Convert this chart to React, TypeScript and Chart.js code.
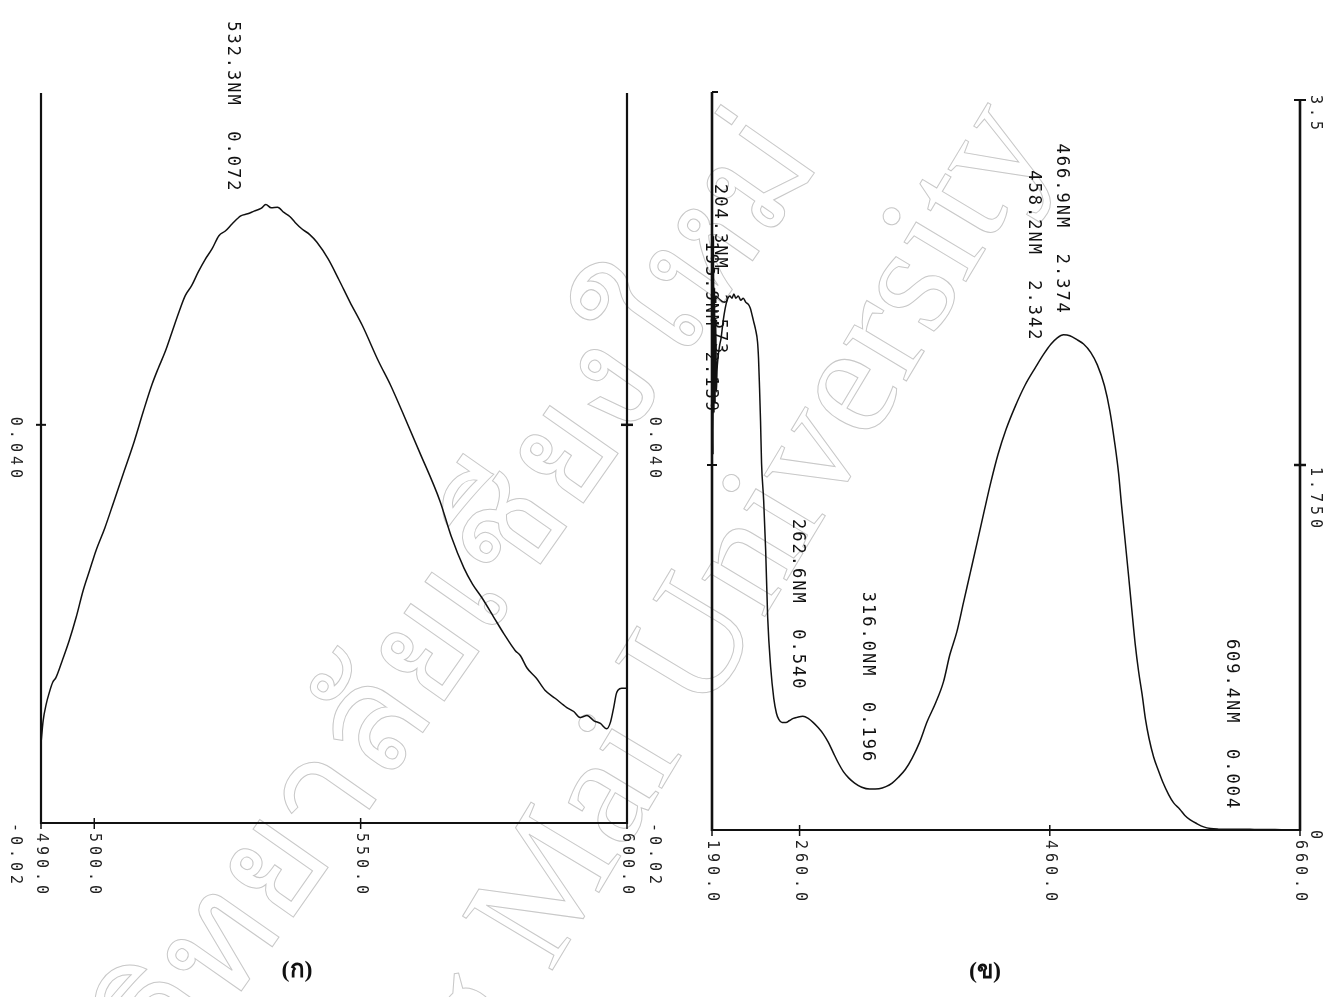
import React, { useEffect, useRef } from "react";
import { Chart, registerables } from "chart.js";

Chart.register(...registerables);

// ================= DATA : spectrum (ก) =================
const leftWavelengths = [
  490.0, 490.4, 491.0, 491.5, 492.2, 492.8, 494.0, 495.3, 496.6, 497.9, 499.1, 500.3,
  502.0, 503.7, 505.6, 507.5, 509.2, 510.8, 512.0, 513.3, 514.6, 515.9, 517.1, 518.3,
  519.5, 520.8, 522.1, 523.4, 524.6, 525.9, 527.5, 528.8, 530.0, 531.3, 532.2, 533.2,
  534.4, 535.6, 536.7, 537.7, 539.0, 540.4, 541.8, 543.9, 545.9, 548.0, 550.3, 553.4,
  555.6, 557.8, 561.0, 564.9, 567.0, 569.4, 571.0, 572.8, 575.0, 576.9, 579.0, 580.0,
  581.2, 583.0, 584.6, 586.5, 588.7, 590.0, 591.2, 592.5, 593.8, 595.0, 596.2, 596.9,
  597.5, 598.0, 598.3, 599.0, 600.0,
];
const leftAbsorbance = [
  -0.008, -0.0046, -0.002, -0.0005, 0.0012, 0.0019, 0.0045, 0.0075, 0.011, 0.015, 0.018, 0.021,
  0.0245, 0.0285, 0.033, 0.0375, 0.042, 0.046, 0.0485, 0.051, 0.054, 0.057, 0.0595, 0.061,
  0.063, 0.0649, 0.0665, 0.0685, 0.0692, 0.0703, 0.0715, 0.0718, 0.0722, 0.0726, 0.0732, 0.0727,
  0.0728, 0.072, 0.0714, 0.0705, 0.0695, 0.0687, 0.0675, 0.065, 0.0619, 0.0585, 0.055, 0.0495,
  0.046, 0.042, 0.036, 0.0285, 0.0232, 0.0184, 0.016, 0.0139, 0.011, 0.0085, 0.006, 0.0052,
  0.0034, 0.0018, 0.0, -0.0012, -0.0026, -0.0032, -0.0041, -0.0038, -0.0046, -0.005, -0.0058, -0.0048,
  -0.0026, -0.0005, 0.0, 0.0003, 0.0003,
];
const leftXTicks = [490, 500, 550, 600];
const leftXTickLabels = ["490.0", "500.0", "550.0", "600.0"];
const leftYTicks = [-0.02, 0.04];
const leftYTickLabels = ["-0.02", "0.040"];
const leftPeakNm = [532.3];
const leftPeakAbs = [0.072];
const leftPeakLabels = ["532.3NM  0.072"];
const leftCaption = "(ก)";

// ================= DATA : spectrum (ข) =================
const rightWavelengths = [
  190.0, 190.4, 190.8, 191.2, 191.6, 192.0, 192.5, 193.0, 193.5, 194.0, 194.9, 196.0,
  197.3, 198.9, 200.5, 202.1, 204.3, 206.0, 207.5, 209.0, 211.0, 213.0, 215.0, 217.0,
  219.1, 220.7, 222.0, 223.2, 224.8, 226.4, 227.2, 228.0, 228.8, 229.6, 231.3, 232.9,
  234.5, 236.9, 239.4, 241.5, 243.4, 246.0, 249.1, 252.0, 255.0, 258.0, 262.6, 266.9,
  271.0, 275.0, 279.0, 283.0, 287.0, 291.1, 295.0, 299.2, 304.0, 309.7, 316.0, 323.5,
  329.0, 334.0, 339.0, 344.5, 350.0, 355.9, 362.0, 368.8, 375.0, 380.1, 385.7, 391.0,
  396.7, 402.0, 407.6, 413.0, 418.6, 425.0, 432.3, 440.0, 448.8, 455.0, 461.0, 466.0,
  471.0, 476.0, 482.0, 487.0, 492.7, 498.0, 503.7, 508.0, 511.8, 515.0, 517.3, 520.0,
  522.8, 525.5, 528.3, 531.0, 533.8, 536.5, 539.3, 543.0, 546.5, 550.3, 555.0, 559.0,
  563.9, 568.0, 572.0, 577.7, 583.0, 588.6, 595.0, 602.0, 609.4, 620.0, 630.0, 640.0,
  650.0, 660.0,
];
const rightAbsorbance = [
  1.95, 2.7, 1.8, 2.85, 2.0, 2.6, 2.05, 2.45, 2.1, 2.2, 2.27, 2.32,
  2.36, 2.44, 2.5, 2.54, 2.56, 2.55, 2.57, 2.55, 2.56, 2.54, 2.55, 2.53,
  2.52, 2.5, 2.47, 2.44, 2.4, 2.34, 2.26, 2.12, 1.96, 1.76, 1.58, 1.34,
  1.02, 0.78, 0.63, 0.56, 0.53, 0.515, 0.515, 0.525, 0.535, 0.54, 0.545, 0.535,
  0.515, 0.49, 0.46, 0.42, 0.37, 0.32, 0.28, 0.25, 0.225, 0.205, 0.196, 0.198,
  0.208, 0.225, 0.253, 0.29, 0.345, 0.42, 0.52, 0.61, 0.71, 0.84, 0.95, 1.09,
  1.24, 1.38, 1.53, 1.67, 1.8, 1.92, 2.03, 2.13, 2.22, 2.28, 2.33, 2.36,
  2.374, 2.37, 2.35, 2.33, 2.29, 2.23, 2.13, 2.01, 1.86, 1.71, 1.56, 1.4,
  1.23, 1.06, 0.89, 0.76, 0.65, 0.53, 0.44, 0.35, 0.29, 0.23, 0.17, 0.13,
  0.1, 0.07, 0.05, 0.03, 0.015, 0.007, 0.004, 0.003, 0.004, 0.003, 0.002, 0.002,
  0.001, 0.001,
];
const rightXTicks = [190, 260, 460, 660];
const rightXTickLabels = ["190.0", "260.0", "460.0", "660.0"];
const rightYTicks = [0, 1.75, 3.5];
const rightYTickLabels = ["0", "1.750", "3.5"];
const rightPeakNm = [204.3, 195.9, 262.6, 316.0, 458.2, 466.9, 609.4];
const rightPeakAbs = [2.573, 2.139, 0.54, 0.196, 2.342, 2.374, 0.004];
const rightPeakLabels = [
  "204.3NM  2.573",
  "195.9NM  2.139",
  "262.6NM  0.540",
  "316.0NM  0.196",
  "458.2NM  2.342",
  "466.9NM  2.374",
  "609.4NM  0.004",
];
const rightCaption = "(ข)";

// watermark texts
const watermarkThai = "ลิขสิทธิ์มหาวิทยาลัยเชียงใหม่";
const watermarkEnglish = "Chiang Mai University";

// ================= STYLE / LAYOUT =================
const MONO = '"DejaVu Sans Mono", "Liberation Mono", monospace';

type PanelStyle = {
  canvasLeft: number;
  width: number;
  height: number;
  padding: { left: number; right: number; top: number; bottom: number };
  xMin: number;
  xMax: number;
  yMin: number;
  yMax: number;
  leftAxisExt: number;
  caps: boolean;
  axisWidth: number;
  labelDx: number[];
  labelGap: number[];
  yLabelSides: ("left" | "right")[];
  yLabelLeftX: number;
  yLabelRightX: number;
  yLabelDy: number[];
  lineWidth: number;
};

const leftStyle: PanelStyle = {
  canvasLeft: 0,
  width: 680,
  height: 997,
  padding: { left: 41, right: 53, top: 93, bottom: 174 },
  xMin: 490,
  xMax: 600,
  yMin: -0.02,
  yMax: 0.09,
  leftAxisExt: 0,
  caps: false,
  axisWidth: 2.2,
  labelDx: [-34],
  labelGap: [20],
  yLabelSides: ["left", "right"],
  yLabelLeftX: -26,
  yLabelRightX: 27,
  yLabelDy: [0, -8],
  lineWidth: 1.5,
};

const rightStyle: PanelStyle = {
  canvasLeft: 680,
  width: 663,
  height: 997,
  padding: { left: 32, right: 43, top: 100, bottom: 167 },
  xMin: 190,
  xMax: 660,
  yMin: 0,
  yMax: 3.5,
  leftAxisExt: 8,
  caps: true,
  axisWidth: 2.6,
  labelDx: [-10, -9, -5, -2, -14, 3, -5],
  labelGap: [-62, -29, 27, 26, 0, 20, 19],
  yLabelSides: ["right"],
  yLabelLeftX: -26,
  yLabelRightX: 15,
  yLabelDy: [0, 2, -5],
  lineWidth: 1.5,
};

function rotText(
  ctx: CanvasRenderingContext2D,
  text: string,
  cx: number,
  y: number,
  align: CanvasTextAlign,
  font: string,
  spacing: string,
  color: string
) {
  ctx.save();
  ctx.translate(cx, y);
  ctx.rotate(Math.PI / 2);
  ctx.font = font;
  try {
    (ctx as any).letterSpacing = spacing;
  } catch (e) {}
  ctx.fillStyle = color;
  ctx.textAlign = align;
  ctx.textBaseline = "middle";
  ctx.fillText(text, 0, 0);
  ctx.restore();
}

const framePlugin = {
  id: "frame",
  afterDraw(chart: any, _args: any, opts: any) {
    const ctx: CanvasRenderingContext2D = chart.ctx;
    const a = chart.chartArea;
    const xs = chart.scales.x;
    const ys = chart.scales.y;
    const st: PanelStyle = opts.style;
    const line = (x1: number, y1: number, x2: number, y2: number, w: number) => {
      ctx.beginPath();
      ctx.lineWidth = w;
      ctx.moveTo(x1, y1);
      ctx.lineTo(x2, y2);
      ctx.stroke();
    };
    ctx.save();
    ctx.strokeStyle = "#111";
    ctx.lineCap = "butt";
    line(a.left, a.top - st.leftAxisExt, a.left, a.bottom + 1, st.axisWidth);
    line(a.right, a.top, a.right, a.bottom + 1, st.axisWidth);
    line(a.left, a.bottom, a.right, a.bottom, 2);
    if (st.caps) {
      line(a.left, a.top - st.leftAxisExt, a.left + 6, a.top - st.leftAxisExt, 2);
      line(a.right - 6, a.top, a.right + 6, a.top, 2);
    }
    (opts.yTicks as number[]).forEach((v) => {
      const yy = ys.getPixelForValue(v);
      if (Math.abs(yy - a.bottom) < 2 || Math.abs(yy - a.top) < 2) return;
      line(a.left - 5, yy, a.left + 5, yy, 2);
      line(a.right - 6, yy, a.right + 6, yy, 2.5);
    });
    (opts.xTicks as number[]).forEach((v) => {
      const xx = xs.getPixelForValue(v);
      line(xx, a.bottom - 5, xx, a.bottom + 6, 1.5);
    });
    (opts.xTicks as number[]).forEach((v, i) => {
      rotText(ctx, opts.xLabels[i], xs.getPixelForValue(v), a.bottom + 10, "left", `15px ${MONO}`, "4px", "#222");
    });
    st.yLabelSides.forEach((side) => {
      (opts.yTicks as number[]).forEach((v, i) => {
        const yy = ys.getPixelForValue(v) + st.yLabelDy[i];
        const xx = side === "left" ? a.left + st.yLabelLeftX : a.right + st.yLabelRightX;
        rotText(ctx, opts.yLabels[i], xx, yy, "left", `15px ${MONO}`, "4px", "#222");
      });
    });
    (opts.peakNm as number[]).forEach((nm, i) => {
      const xx = xs.getPixelForValue(nm) + st.labelDx[i];
      const yy = ys.getPixelForValue(opts.peakAbs[i]) - st.labelGap[i];
      rotText(ctx, opts.peakLabels[i], xx, yy, "right", `17px ${MONO}`, "2px", "#111");
    });
    ctx.restore();
  },
};

type PanelProps = {
  st: PanelStyle;
  wl: number[];
  ab: number[];
  xTicks: number[];
  xLabels: string[];
  yTicks: number[];
  yLabels: string[];
  peakNm: number[];
  peakAbs: number[];
  peakLabels: string[];
};

function Panel(props: PanelProps) {
  const ref = useRef<HTMLCanvasElement | null>(null);
  useEffect(() => {
    if (!ref.current) return;
    const st = props.st;
    const chart = new Chart(ref.current, {
      type: "line",
      data: {
        datasets: [
          {
            data: props.wl.map((w, i) => ({ x: w, y: props.ab[i] })),
            borderColor: "#111",
            borderWidth: st.lineWidth,
            pointRadius: 0,
            cubicInterpolationMode: "monotone",
            fill: false,
          },
        ],
      },
      options: {
        animation: false,
        responsive: false,
        maintainAspectRatio: false,
        layout: { padding: st.padding },
        scales: {
          x: { type: "linear", min: st.xMin, max: st.xMax, display: false },
          y: { type: "linear", min: st.yMin, max: st.yMax, display: false },
        },
        plugins: {
          legend: { display: false },
          tooltip: { enabled: false },
          frame: {
            style: st,
            xTicks: props.xTicks,
            xLabels: props.xLabels,
            yTicks: props.yTicks,
            yLabels: props.yLabels,
            peakNm: props.peakNm,
            peakAbs: props.peakAbs,
            peakLabels: props.peakLabels,
          },
        } as any,
      },
      plugins: [framePlugin as any],
    });
    return () => chart.destroy();
  }, []);
  const st = props.st;
  return (
    <canvas
      ref={ref}
      width={st.width}
      height={st.height}
      style={{ position: "absolute", left: st.canvasLeft, top: 0, width: st.width, height: st.height }}
    />
  );
}

// watermark: text whose END sits at (x, y), rotated by angle
function Watermark(props: { text: string; x: number; y: number; angle: number; size: number; family: string }) {
  return (
    <div
      style={{
        position: "absolute",
        left: props.x,
        top: props.y,
        width: 0,
        height: 0,
        transform: `rotate(${props.angle}deg)`,
        transformOrigin: "0 0",
        pointerEvents: "none",
      }}
    >
      <div
        style={{
          position: "absolute",
          right: 0,
          top: 0,
          transform: "translateY(-50%)",
          whiteSpace: "nowrap",
          lineHeight: 1,
          fontSize: props.size,
          fontFamily: props.family,
          color: "transparent",
          WebkitTextStroke: "1px #c8c8c8",
        }}
      >
        {props.text}
      </div>
    </div>
  );
}

const captionBase: React.CSSProperties = {
  position: "absolute",
  transform: "translate(-50%, -50%)",
  fontFamily: '"Liberation Serif", "DejaVu Serif", serif',
  fontWeight: "bold",
  fontSize: 24,
  color: "#111",
};

export default function App() {
  return (
    <div
      style={{
        position: "absolute",
        left: 0,
        top: 0,
        width: 1343,
        height: 997,
        background: "#fff",
        overflow: "hidden",
      }}
    >
      <Watermark text={watermarkThai} x={775} y={128} angle={-55} size={150} family='"Noto Sans", sans-serif' />
      <Watermark text={watermarkEnglish} x={1005} y={112} angle={-59} size={160} family='"Liberation Serif", serif' />
      <Panel
        st={leftStyle}
        wl={leftWavelengths}
        ab={leftAbsorbance}
        xTicks={leftXTicks}
        xLabels={leftXTickLabels}
        yTicks={leftYTicks}
        yLabels={leftYTickLabels}
        peakNm={leftPeakNm}
        peakAbs={leftPeakAbs}
        peakLabels={leftPeakLabels}
      />
      <Panel
        st={rightStyle}
        wl={rightWavelengths}
        ab={rightAbsorbance}
        xTicks={rightXTicks}
        xLabels={rightXTickLabels}
        yTicks={rightYTicks}
        yLabels={rightYTickLabels}
        peakNm={rightPeakNm}
        peakAbs={rightPeakAbs}
        peakLabels={rightPeakLabels}
      />
      <div style={{ ...captionBase, left: 297, top: 968 }}>{leftCaption}</div>
      <div style={{ ...captionBase, left: 985, top: 969 }}>{rightCaption}</div>
    </div>
  );
}
